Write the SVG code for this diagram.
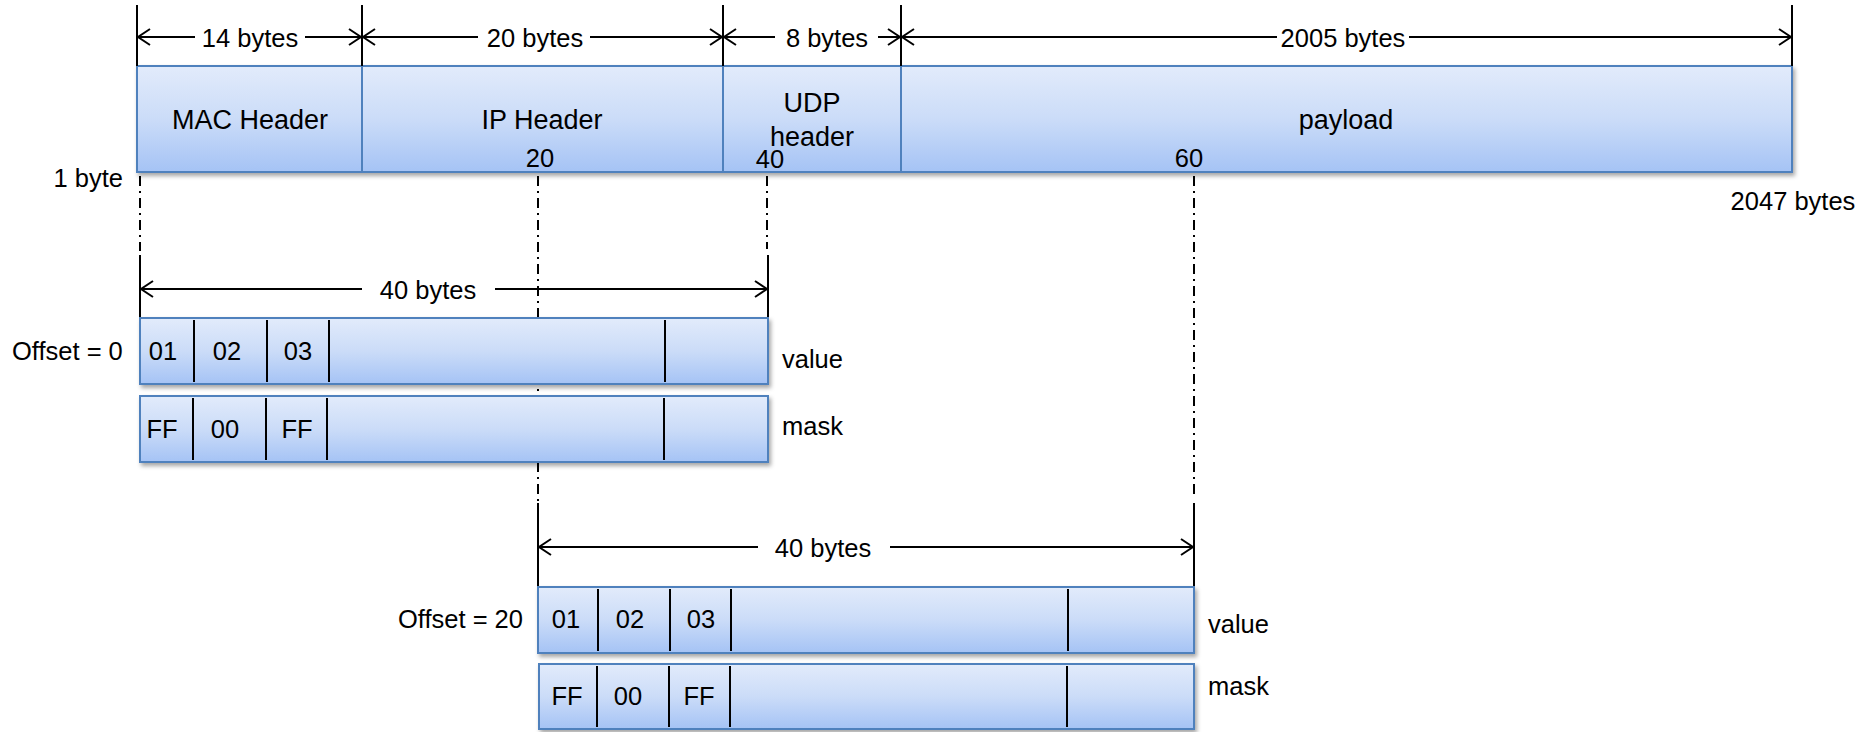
<svg xmlns="http://www.w3.org/2000/svg" width="1869" height="732" viewBox="0 0 1869 732">
  <defs>
    <linearGradient id="cellFill" x1="0" y1="0" x2="0" y2="1">
      <stop offset="0" stop-color="#e2ebfb"/>
      <stop offset="0.5" stop-color="#cbdcf8"/>
      <stop offset="1" stop-color="#a5c3f5"/>
    </linearGradient>
    <filter id="shade" x="-5%" y="-20%" width="110%" height="150%">
      <feDropShadow dx="2" dy="3" stdDeviation="2" flood-color="#000" flood-opacity="0.35"/>
    </filter>
    <marker id="arr" viewBox="-14 -10 16 20" refX="0" refY="0" markerWidth="16" markerHeight="20" markerUnits="userSpaceOnUse" orient="auto-start-reverse">
      <path d="M-12,-8 L0,0 L-12,8" fill="none" stroke="#000" stroke-width="2"/>
    </marker>
    <style>
      .cell { fill: url(#cellFill); stroke: #4f81bd; stroke-width: 2; }
      .div { stroke: #000; stroke-width: 2; }
      .dim { stroke: #000; stroke-width: 2; fill: none; }
      .tick { stroke: #000; stroke-width: 2; }
      .guide { stroke: #000; stroke-width: 2; stroke-dasharray: 10 5 2 5; fill: none; }
      text { font-family: "Liberation Sans", Arial, sans-serif; fill: #000; font-size: 25.5px; }
      .hdr { font-size: 27px; text-anchor: middle; }
      .mid { text-anchor: middle; }
      .end { text-anchor: end; }
    </style>
  </defs>

  <rect width="1869" height="732" fill="#fff"/>

  <!-- dash-dot guides, drawn below the boxes -->
  <g id="guides">
    <path class="guide" d="M140,176 V251"/>
    <path class="guide" d="M538,176 V501"/>
    <path class="guide" d="M767,176 V249"/>
    <path class="guide" d="M1194,176 V499"/>
  </g>

  <!-- frame layout: header cells -->
  <g id="frame" filter="url(#shade)">
    <g id="mac"><rect class="cell" x="137" y="66" width="225" height="106"/></g>
    <g id="ip"><rect class="cell" x="362" y="66" width="361" height="106"/></g>
    <g id="udp"><rect class="cell" x="723" y="66" width="178" height="106"/></g>
    <g id="payload"><rect class="cell" x="901" y="66" width="891" height="106"/></g>
  </g>
  <text class="hdr" x="250" y="129">MAC Header</text>
  <text class="hdr" x="542" y="129">IP Header</text>
  <text class="hdr" x="812" y="112">UDP</text>
  <text class="hdr" x="812" y="146">header</text>
  <text class="hdr" x="1346" y="129">payload</text>
  <text class="mid" x="540" y="167">20</text>
  <text class="mid" x="770" y="168">40</text>
  <text class="mid" x="1189" y="167">60</text>
  <text class="end" x="123" y="187">1 byte</text>
  <text class="mid" x="1793" y="210">2047 bytes</text>

  <!-- dimension lines -->
  <g id="connectors">
    <line class="tick" x1="137" y1="5" x2="137" y2="66"/>
    <line class="tick" x1="362" y1="5" x2="362" y2="66"/>
    <line class="tick" x1="723" y1="5" x2="723" y2="66"/>
    <line class="tick" x1="901" y1="5" x2="901" y2="66"/>
    <line class="tick" x1="1792" y1="5" x2="1792" y2="66"/>

    <line class="dim" x1="138" y1="37" x2="195" y2="37" marker-start="url(#arr)"/>
    <line class="dim" x1="305" y1="37" x2="361" y2="37" marker-end="url(#arr)"/>
    <line class="dim" x1="363" y1="37" x2="478" y2="37" marker-start="url(#arr)"/>
    <line class="dim" x1="590" y1="37" x2="722" y2="37" marker-end="url(#arr)"/>
    <line class="dim" x1="724" y1="37" x2="775" y2="37" marker-start="url(#arr)"/>
    <line class="dim" x1="878" y1="37" x2="900" y2="37" marker-end="url(#arr)"/>
    <line class="dim" x1="902" y1="37" x2="1277" y2="37" marker-start="url(#arr)"/>
    <line class="dim" x1="1409" y1="37" x2="1791" y2="37" marker-end="url(#arr)"/>

    <line class="tick" x1="140" y1="255" x2="140" y2="318"/>
    <line class="tick" x1="768" y1="255" x2="768" y2="318"/>
    <line class="dim" x1="141" y1="289" x2="362" y2="289" marker-start="url(#arr)"/>
    <line class="dim" x1="495" y1="289" x2="767" y2="289" marker-end="url(#arr)"/>

    <line class="tick" x1="538" y1="503" x2="538" y2="587"/>
    <line class="tick" x1="1194" y1="503" x2="1194" y2="587"/>
    <line class="dim" x1="539" y1="547" x2="758" y2="547" marker-start="url(#arr)"/>
    <line class="dim" x1="890" y1="547" x2="1193" y2="547" marker-end="url(#arr)"/>
  </g>
  <text class="mid" x="250" y="47">14 bytes</text>
  <text class="mid" x="535" y="47">20 bytes</text>
  <text class="mid" x="827" y="47">8 bytes</text>
  <text class="mid" x="1343" y="47">2005 bytes</text>
  <text class="mid" x="428" y="299">40 bytes</text>
  <text class="mid" x="823" y="557">40 bytes</text>

  <!-- match window at offset 0 -->
  <g id="value0">
    <rect class="cell" filter="url(#shade)" x="140" y="318" width="628" height="66"/>
    <line class="div" x1="194" y1="320" x2="194" y2="382"/>
    <line class="div" x1="267" y1="320" x2="267" y2="382"/>
    <line class="div" x1="329" y1="320" x2="329" y2="382"/>
    <line class="div" x1="665" y1="320" x2="665" y2="382"/>
    <text class="mid" x="163" y="360">01</text>
    <text class="mid" x="227" y="360">02</text>
    <text class="mid" x="298" y="360">03</text>
  </g>
  <g id="mask0">
    <rect class="cell" filter="url(#shade)" x="140" y="396" width="628" height="66"/>
    <line class="div" x1="193" y1="398" x2="193" y2="460"/>
    <line class="div" x1="266" y1="398" x2="266" y2="460"/>
    <line class="div" x1="327" y1="398" x2="327" y2="460"/>
    <line class="div" x1="664" y1="398" x2="664" y2="460"/>
    <text class="mid" x="162" y="438">FF</text>
    <text class="mid" x="225" y="438">00</text>
    <text class="mid" x="297" y="438">FF</text>
  </g>
  <text x="12" y="360">Offset = 0</text>
  <text x="782" y="368">value</text>
  <text x="782" y="435">mask</text>

  <!-- match window at offset 20 -->
  <g id="value20">
    <rect class="cell" filter="url(#shade)" x="538" y="587" width="656" height="66"/>
    <line class="div" x1="598" y1="589" x2="598" y2="651"/>
    <line class="div" x1="670" y1="589" x2="670" y2="651"/>
    <line class="div" x1="731" y1="589" x2="731" y2="651"/>
    <line class="div" x1="1068" y1="589" x2="1068" y2="651"/>
    <text class="mid" x="566" y="628">01</text>
    <text class="mid" x="630" y="628">02</text>
    <text class="mid" x="701" y="628">03</text>
  </g>
  <g id="mask20">
    <rect class="cell" filter="url(#shade)" x="539" y="664" width="655" height="65"/>
    <line class="div" x1="597" y1="666" x2="597" y2="727"/>
    <line class="div" x1="669" y1="666" x2="669" y2="727"/>
    <line class="div" x1="730" y1="666" x2="730" y2="727"/>
    <line class="div" x1="1067" y1="666" x2="1067" y2="727"/>
    <text class="mid" x="567" y="705">FF</text>
    <text class="mid" x="628" y="705">00</text>
    <text class="mid" x="699" y="705">FF</text>
  </g>
  <text x="398" y="628">Offset = 20</text>
  <text x="1208" y="633">value</text>
  <text x="1208" y="695">mask</text>
</svg>
